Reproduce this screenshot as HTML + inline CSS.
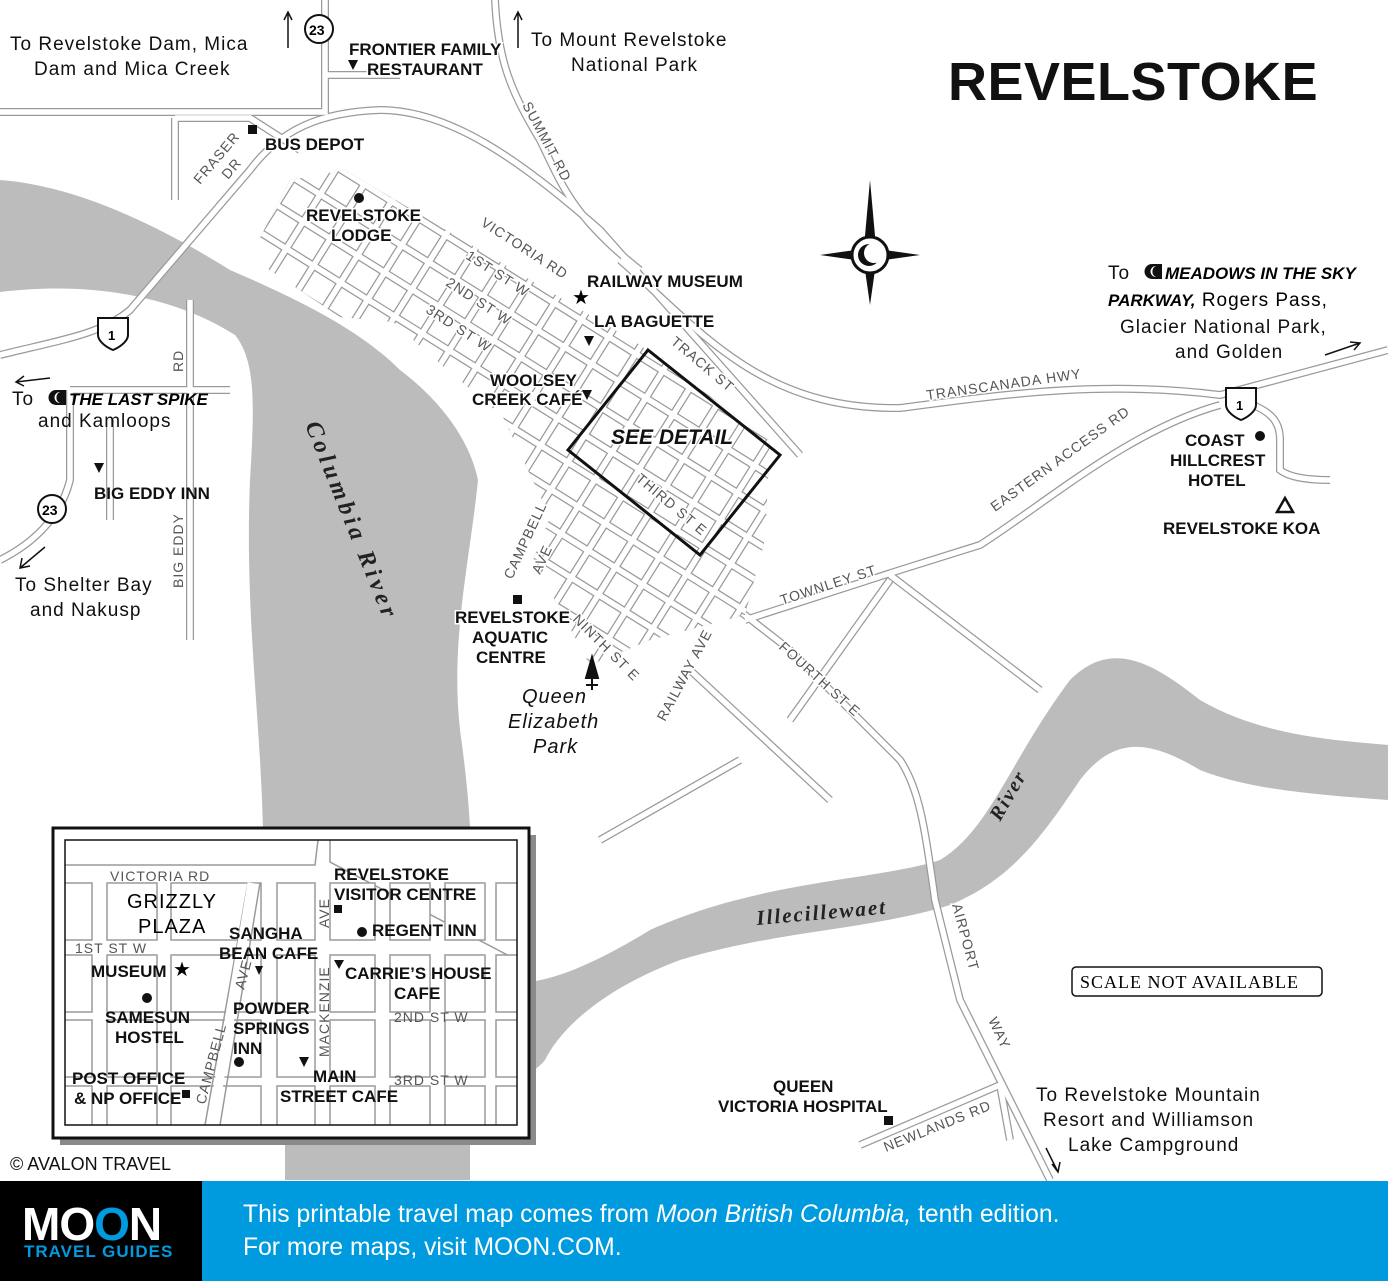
<!DOCTYPE html>
<html><head><meta charset="utf-8"><style>
html,body{margin:0;padding:0;background:#fff}
svg{display:block}
text{font-family:"Liberation Sans",sans-serif}
.b{font-weight:bold;font-size:17px;fill:#111}
.s{font-size:14px;fill:#555;letter-spacing:1px}
.t{font-size:19px;fill:#111;letter-spacing:1px}
.rd1{fill:none;stroke:#9a9a9a;stroke-width:8}
.rd2{fill:none;stroke:#fff;stroke-width:5.5}
.g1{fill:none;stroke:#9a9a9a;stroke-width:8}
.g2{fill:none;stroke:#fff;stroke-width:5.5}
</style></head><body>
<svg width="1388" height="1281" viewBox="0 0 1388 1281" xmlns="http://www.w3.org/2000/svg">
<defs>
<g id="roads">
<path d="M0,112 H325 V0 M325,75 H400"/>
<path d="M0,355 C60,340 100,335 130,310 L250,170 C280,130 320,112 380,110 C450,110 520,160 600,230 L800,455"/>
<path d="M620,260 C700,330 760,410 900,408 C1000,395 1100,380 1220,395 L1388,350"/>
<path d="M495,0 C498,60 510,90 540,140 C560,180 570,215 640,270"/>
<path d="M175,118 V200 M175,118 H250 L300,150"/>
<path d="M190,300 V640 M70,390 H230 M70,390 V480 C60,520 30,545 0,560 M110,420 V520"/>
<path d="M700,580 L790,650 L900,760 C920,790 925,830 935,900 L960,1000 L1050,1180"/>
<path d="M745,620 L900,570 L980,545 C1050,500 1130,430 1220,405"/>
<path d="M890,575 L1040,690 M890,580 L790,720 M600,840 L740,760 M690,670 L830,800"/>
<path d="M860,1145 L1000,1085 L1010,1140"/>
<path d="M1240,400 C1270,410 1280,420 1280,440 V470 C1290,478 1310,480 1330,480"/>
<path d="M700,590 C760,540 760,470 690,400"/>
<path d="M540,560 L600,490 L660,470"/>
</g>
<g id="grid">
<path d="M-400,-352 h800 m-800,32 h800 m-800,32 h800 m-800,32 h800 m-800,32 h800 m-800,32 h800 m-800,32 h800 m-800,32 h800 m-800,32 h800 m-800,32 h800 m-800,32 h800 m-800,32 h800 m-800,32 h800 m-800,32 h800 m-800,32 h800 m-800,32 h800 m-800,32 h800 m-800,32 h800 m-800,32 h800 m-800,32 h800 m-800,32 h800 m-800,32 h800 m-800,32 h800"/>
<path d="M-400,-360 v720 m32,-720 v720 m32,-720 v720 m32,-720 v720 m32,-720 v720 m32,-720 v720 m32,-720 v720 m32,-720 v720 m32,-720 v720 m32,-720 v720 m32,-720 v720 m32,-720 v720 m32,-720 v720 m32,-720 v720 m32,-720 v720 m32,-720 v720 m32,-720 v720 m32,-720 v720 m32,-720 v720 m32,-720 v720 m32,-720 v720 m32,-720 v720 m32,-720 v720 m32,-720 v720 m32,-720 v720 m32,-720 v720"/>
</g>
<clipPath id="dt"><polygon points="250,257 290,180 345,170 640,345 770,440 765,540 745,615 650,640 590,665 533,560 550,517 503,417 430,355 393,322 340,317"/></clipPath>
<clipPath id="ins"><rect x="65" y="840" width="452" height="285"/></clipPath>
</defs>
<rect width="1388" height="1281" fill="#fff"/>
<path fill="#bcbcbc" d="M0,180 C70,185 150,220 230,270 C300,300 360,330 400,370 C440,400 470,440 478,480 C470,560 450,640 460,730 C470,800 475,870 470,960 C500,1000 560,985 650,930 C760,880 880,880 940,860 C990,830 1010,760 1070,680 C1110,640 1150,660 1200,700 C1260,735 1330,740 1388,745 L1388,800 C1320,795 1250,790 1200,770 C1150,740 1115,735 1080,780 C1040,840 1010,880 950,905 C870,930 780,930 680,960 C600,990 560,1030 545,1060 C520,1090 480,1080 470,1100 L470,1180 L285,1180 L285,1100 C275,1000 265,900 262,800 C258,700 245,600 250,480 C255,400 255,360 235,335 C180,300 100,280 0,292 Z"/>
<use href="#roads" class="rd1"/>
<use href="#roads" class="rd2"/>
<g clip-path="url(#dt)">
<polygon points="250,257 290,180 345,170 640,345 770,440 765,540 745,615 650,640 590,665 533,560 550,517 503,417 430,355 393,322 340,317" fill="#fff"/>
<g transform="translate(500,420) rotate(32)">
<use href="#grid" class="g1"/><use href="#grid" class="g2"/>
</g>
</g>
<polygon points="648,350 780,455 700,555 568,450" fill="none" stroke="#111" stroke-width="3"/>
<g transform="translate(870,255)">
<polygon points="0,-75 6,-8 0,0 -6,-8" fill="#111"/><polygon points="0,50 6,8 0,0 -6,8" fill="#111"/>
<polygon points="-50,0 -8,-6 0,0 -8,6" fill="#111"/><polygon points="50,0 8,-6 0,0 8,6" fill="#111"/>
<circle r="18" fill="#fff" stroke="#111" stroke-width="3"/>
<circle cx="-1" r="11" fill="#111"/><circle cx="4" cy="-2" r="10" fill="#fff"/>
</g>
<text x="948" y="100" style="font-weight:bold;font-size:54px;fill:#111;letter-spacing:0.5px">REVELSTOKE</text>
<g style="paint-order:stroke" stroke="#fff" stroke-width="3">
<text class="t" x="10" y="50">To Revelstoke Dam, Mica</text>
<text class="t" x="34" y="75">Dam and Mica Creek</text>
<text class="t" x="531" y="46">To Mount Revelstoke</text>
<text class="t" x="571" y="71">National Park</text>
<text class="b" x="349" y="55">FRONTIER FAMILY</text>
<text class="b" x="367" y="75">RESTAURANT</text>
<text class="b" x="265" y="150">BUS DEPOT</text>
<text class="b" x="306" y="221">REVELSTOKE</text><text class="b" x="331" y="241">LODGE</text>
<text class="b" x="587" y="287">RAILWAY MUSEUM</text>
<text class="b" x="594" y="327">LA BAGUETTE</text>
<text class="b" x="490" y="386">WOOLSEY</text><text class="b" x="472" y="405">CREEK CAFÉ</text>
<text x="611" y="444" style="font-weight:bold;font-style:italic;font-size:21px;fill:#111">SEE DETAIL</text>
<text class="b" x="455" y="623">REVELSTOKE</text><text class="b" x="472" y="643">AQUATIC</text><text class="b" x="476" y="663">CENTRE</text>
<text x="522" y="703" style="font-style:italic;font-size:20px;fill:#111;letter-spacing:1px">Queen</text>
<text x="508" y="728" style="font-style:italic;font-size:20px;fill:#111;letter-spacing:1px">Elizabeth</text>
<text x="533" y="753" style="font-style:italic;font-size:20px;fill:#111;letter-spacing:1px">Park</text>
</g>
<rect x="248" y="125" width="9" height="9" fill="#111"/>
<circle cx="359" cy="198" r="5" fill="#111"/>
<rect x="513" y="595" width="9" height="9" fill="#111"/>
<text class="t" x="1108" y="279">To</text>
<path d="M1152,264 h10 v15 h-10 a7.5,7.5 0 0 1 0,-15z" fill="#111"/><path d="M1156,266 a6,6 0 0 0 0,11 a5,5 0 0 1 0,-11z" fill="#fff"/>
<text x="1165" y="279" style="font-weight:bold;font-style:italic;font-size:17px">MEADOWS IN THE SKY</text>
<text x="1108" y="306" style="font-size:19px;letter-spacing:1px"><tspan style="font-weight:bold;font-style:italic;font-size:17px;letter-spacing:0">PARKWAY,</tspan> Rogers Pass,</text>
<text class="t" x="1120" y="333">Glacier National Park,</text>
<text class="t" x="1175" y="358">and Golden</text>
<text class="t" x="12" y="405">To</text>
<path d="M56,390 h10 v15 h-10 a7.5,7.5 0 0 1 0,-15z" fill="#111"/><path d="M60,392 a6,6 0 0 0 0,11 a5,5 0 0 1 0,-11z" fill="#fff"/>
<text x="69" y="405" style="font-weight:bold;font-style:italic;font-size:17px">THE LAST SPIKE</text>
<text class="t" x="38" y="427">and Kamloops</text>
<text class="b" x="94" y="499">BIG EDDY INN</text>
<text class="t" x="15" y="591">To Shelter Bay</text>
<text class="t" x="30" y="616">and Nakusp</text>
<text class="b" x="1185" y="446">COAST</text><text class="b" x="1170" y="466">HILLCREST</text><text class="b" x="1188" y="486">HOTEL</text>
<circle cx="1260" cy="436" r="5" fill="#111"/>
<text class="b" x="1163" y="534">REVELSTOKE KOA</text>
<text class="b" x="773" y="1092">QUEEN</text><text class="b" x="718" y="1112">VICTORIA HOSPITAL</text>
<rect x="884" y="1116" width="9" height="9" fill="#111"/>
<text class="t" x="1036" y="1101">To Revelstoke Mountain</text>
<text class="t" x="1043" y="1126">Resort and Williamson</text>
<text class="t" x="1068" y="1151">Lake Campground</text>
<rect x="1072" y="967" width="250" height="29" rx="4" fill="#fff" stroke="#111" stroke-width="1.5"/>
<text x="1080" y="988" style="font-family:'Liberation Serif',serif;font-size:18px;letter-spacing:1px">SCALE NOT AVAILABLE</text>
<text x="10" y="1170" style="font-size:18px;fill:#111">© AVALON TRAVEL</text>
<g class="s" style="paint-order:stroke" stroke="#fff" stroke-width="3">
<text transform="translate(200,185) rotate(-50)">FRASER</text>
<text transform="translate(228,180) rotate(-50)">DR</text>
<text transform="translate(522,105) rotate(62)">SUMMIT RD</text>
<text transform="translate(480,225) rotate(33)">VICTORIA RD</text>
<text transform="translate(465,258) rotate(33)">1ST ST W</text>
<text transform="translate(445,285) rotate(33)">2ND ST W</text>
<text transform="translate(425,312) rotate(33)">3RD ST W</text>
<text transform="translate(670,343) rotate(40)">TRACK ST</text>
<text transform="translate(927,400) rotate(-8)">TRANSCANADA HWY</text>
<text transform="translate(995,512) rotate(-36)">EASTERN ACCESS RD</text>
<text transform="translate(635,480) rotate(40)">THIRD ST E</text>
<text transform="translate(512,580) rotate(-65)">CAMPBELL</text>
<text transform="translate(540,575) rotate(-65)">AVE</text>
<text transform="translate(572,620) rotate(45)">NINTH ST E</text>
<text transform="translate(665,722) rotate(-62)">RAILWAY AVE</text>
<text transform="translate(782,605) rotate(-18)">TOWNLEY ST</text>
<text transform="translate(778,648) rotate(42)">FOURTH ST E</text>
<text transform="translate(952,905) rotate(75)">AIRPORT</text>
<text transform="translate(988,1020) rotate(65)">WAY</text>
<text transform="translate(886,1152) rotate(-22)">NEWLANDS RD</text>
<text transform="translate(183,588) rotate(-90)">BIG EDDY</text>
<text transform="translate(183,372) rotate(-90)">RD</text>
</g>
<text transform="translate(305,425) rotate(68)" style="font-family:'Liberation Serif',serif;font-style:italic;font-weight:bold;font-size:24px;letter-spacing:4px;fill:#222">Columbia River</text>
<text transform="translate(757,925) rotate(-5)" style="font-family:'Liberation Serif',serif;font-style:italic;font-weight:bold;font-size:21px;letter-spacing:2px;fill:#222">Illecillewaet</text>
<text transform="translate(1000,822) rotate(-60)" style="font-family:'Liberation Serif',serif;font-style:italic;font-weight:bold;font-size:20px;letter-spacing:2px;fill:#222">River</text>
<polygon points="348,60 358,60 353,70" fill="#111"/>
<polygon points="584,336 594,336 589,346" fill="#111"/>
<polygon points="582,390 592,390 587,400" fill="#111"/>
<polygon points="94,463 104,463 99,473" fill="#111"/>
<text x="572" y="304" style="font-size:20px">★</text>
<polygon points="1285,498 1277,512 1293,512" fill="none" stroke="#111" stroke-width="2.5"/>
<path d="M592,657 L586,678 L598,678Z M592,678 V690 M586,685 H598" fill="#111" stroke="#111" stroke-width="2"/>
<g fill="#fff" stroke="#111" stroke-width="2">
<circle cx="319" cy="29" r="14"/><circle cx="52" cy="509" r="14"/>
<path d="M98,318 H128 V335 C128,342 118,348 113,350 C108,348 98,342 98,335Z"/>
<path d="M1226,388 H1256 V405 C1256,412 1246,418 1241,420 C1236,418 1226,412 1226,405Z"/>
</g>
<text x="309" y="35" style="font-weight:bold;font-size:14px">23</text>
<text x="42" y="515" style="font-weight:bold;font-size:14px">23</text>
<text x="108" y="340" style="font-weight:bold;font-size:13px">1</text>
<text x="1236" y="410" style="font-weight:bold;font-size:13px">1</text>
<g stroke="#111" stroke-width="1.5" fill="none">
<path d="M288,48 V12 M284,20 L288,12 L292,20"/>
<path d="M518,48 V12 M514,20 L518,12 L522,20"/>
<path d="M1325,355 L1360,343 M1350,342 L1360,343 L1354,350"/>
<path d="M50,378 L16,382 M24,376 L16,382 L24,386"/>
<path d="M45,547 L20,568 M22,558 L20,568 L30,566"/>
<path d="M1046,1148 L1058,1172 M1052,1164 L1058,1172 L1060,1162"/>
</g>
<rect x="60" y="835" width="476" height="310" fill="#8a8a8a"/>
<rect x="53" y="828" width="476" height="310" fill="#fff" stroke="#111" stroke-width="3"/>
<g clip-path="url(#ins)" fill="#fff" stroke="#9a9a9a" stroke-width="1.5">
<path d="M65,865 H315 L318,840 M330,840 L330,862 L517,960" fill="none"/>
<g id="row">
<rect x="50" y="883" width="42" height="57"/><rect x="107" y="883" width="50" height="57"/><rect x="171" y="883" width="90" height="57"/><rect x="277" y="883" width="38" height="57"/><rect x="330" y="883" width="45" height="57"/><rect x="390" y="883" width="40" height="57"/><rect x="445" y="883" width="40" height="57"/><rect x="496" y="883" width="40" height="57"/>
</g>
<use href="#row" y="72"/><use href="#row" y="137"/><use href="#row" y="203"/>
<path d="M260,883 L220,1125 M248,883 L205,1125" stroke="#9a9a9a" fill="none"/>
</g>
<path d="M252,883 L212,1125" stroke="#fff" stroke-width="9" clip-path="url(#ins)"/>
<rect x="65" y="840" width="452" height="285" fill="none" stroke="#111" stroke-width="1.5"/>
<g font-size="17">
<text x="110" y="881" style="font-size:14px;fill:#555;letter-spacing:1px">VICTORIA RD</text>
<text x="127" y="908" style="font-size:20px;letter-spacing:1px">GRIZZLY</text>
<text x="138" y="933" style="font-size:20px;letter-spacing:1px">PLAZA</text>
<text x="75" y="953" style="font-size:14px;fill:#555;letter-spacing:1px">1ST ST W</text>
<text class="b" x="229" y="939">SANGHA</text><text class="b" x="219" y="959">BEAN CAFE</text>
<text class="b" x="334" y="880">REVELSTOKE</text><text class="b" x="334" y="900">VISITOR CENTRE</text>
<rect x="334" y="905" width="8" height="8" fill="#111"/>
<circle cx="362" cy="932" r="5" fill="#111"/><text class="b" x="372" y="936">REGENT INN</text>
<text class="b" x="91" y="977">MUSEUM</text><text x="173" y="976" style="font-size:20px">★</text>
<polygon points="255,966 263,966 259,975" fill="#111"/>
<polygon points="334,960 344,960 339,969" fill="#111"/>
<text class="b" x="345" y="979">CARRIE’S HOUSE</text><text class="b" x="394" y="999">CAFE</text>
<circle cx="147" cy="998" r="5" fill="#111"/>
<text class="b" x="105" y="1023">SAMESUN</text><text class="b" x="115" y="1043">HOSTEL</text>
<text class="b" x="233" y="1014">POWDER</text><text class="b" x="233" y="1034">SPRINGS</text><text class="b" x="233" y="1054">INN</text>
<circle cx="239" cy="1062" r="5" fill="#111"/>
<polygon points="299,1057 309,1057 304,1067" fill="#111"/>
<text class="b" x="313" y="1082">MAIN</text><text class="b" x="280" y="1102">STREET CAFE</text>
<text x="394" y="1022" style="font-size:14px;fill:#555;letter-spacing:1px">2ND ST W</text>
<text x="394" y="1085" style="font-size:14px;fill:#555;letter-spacing:1px">3RD ST W</text>
<text class="b" x="72" y="1084">POST OFFICE</text><text class="b" x="74" y="1104">&amp; NP OFFICE</text>
<rect x="182" y="1090" width="8" height="8" fill="#111"/>
<g style="font-size:14px;fill:#555;letter-spacing:1px">
<text transform="translate(329,928) rotate(-90)">AVE</text>
<text transform="translate(329,1057) rotate(-90)">MACKENZIE</text>
<text transform="translate(244,990) rotate(-75)">AVE</text>
<text transform="translate(205,1105) rotate(-75)">CAMPBELL</text>
</g>
</g>
<rect x="0" y="1181" width="202" height="100" fill="#000"/>
<rect x="202" y="1181" width="1186" height="100" fill="#009ade"/>
<text x="22" y="1240" style="font-weight:bold;font-size:46px;fill:#fff;letter-spacing:-1px">MO<tspan fill="#009ade">O</tspan>N</text>
<text x="24" y="1257" style="font-size:17px;fill:#009ade;letter-spacing:1px;font-weight:bold">TRAVEL GUIDES</text>
<text x="243" y="1222" style="font-size:24.7px;fill:#fff">This printable travel map comes from <tspan font-style="italic">Moon British Columbia,</tspan> tenth edition.</text>
<text x="243" y="1255" style="font-size:24.7px;fill:#fff">For more maps, visit MOON.COM.</text>
</svg>
</body></html>
